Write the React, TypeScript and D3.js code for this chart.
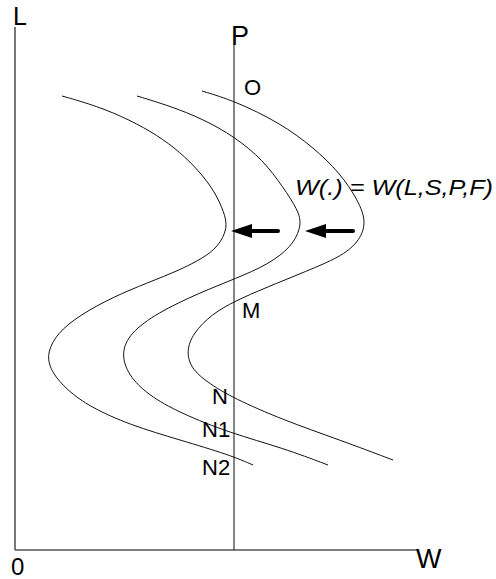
import React from "react";
import * as d3 from "d3";

// Data units: W (horizontal), L (vertical)
const curve1: [number, number][] = [
  [47, 454], [82, 444], [115, 430], [142, 415], [165, 398], [185, 378], [200, 358], [209, 338], [213, 322],
  [203, 303], [188, 292], [165, 280], [132, 267], [98, 253], [65, 235], [42, 217], [31, 195], [37, 177],
  [52, 160], [75, 143], [115, 125], [165, 110], [215, 95], [238, 85],
];
const curve2: [number, number][] = [
  [122, 454], [155, 444], [188, 431], [220, 413], [248, 390], [268, 363], [283, 340], [287, 325],
  [277, 303], [252, 285], [222, 272], [184, 257], [142, 237], [115, 217], [106, 197], [113, 175],
  [133, 155], [165, 137], [215, 117], [268, 102], [313, 85],
];
const curve3: [number, number][] = [
  [187, 459], [220, 449], [265, 427], [298, 403], [325, 377], [343, 350], [352, 327], [343, 307],
  [325, 293], [292, 279], [250, 262], [220, 249], [197, 236], [178, 217], [171, 198], [177, 180],
  [195, 166], [218, 152], [268, 130], [325, 110], [378, 90],
];
const curves = [curve1, curve2, curve3];

// Arrows: [fromW, toW, L]
const arrows: [number, number, number][] = [
  [263, 216, 319],
  [338, 290, 319],
];

const priceW = 219; // vertical line P
const pointLabels: { text: string; w: number; l: number }[] = [
  { text: "O", w: 229, l: 455 },
  { text: "M", w: 227, l: 232 },
  { text: "N", w: 197, l: 146 },
  { text: "N1", w: 187, l: 113 },
  { text: "N2", w: 187, l: 75 },
];

export default function App() {
  const width = 496;
  const height = 579;
  const x = d3.scaleLinear().domain([0, 402]).range([15, 417]);
  const y = d3.scaleLinear().domain([0, 523]).range([550, 27]);
  const line = d3
    .line<[number, number]>()
    .x((d) => x(d[0]))
    .y((d) => y(d[1]))
    .curve(d3.curveBasis);
  const font = "'Liberation Sans', Arial, sans-serif";

  return (
    <svg
      width={width}
      height={height}
      style={{ position: "absolute", left: 0, top: 0, background: "#fff" }}
    >
      <rect x={0} y={0} width={width} height={height} fill="#fff" />
      {/* axes */}
      <line x1={x(0)} y1={y(0)} x2={x(0)} y2={y(523)} stroke="#555" strokeWidth={1.6} />
      <line x1={x(0)} y1={y(0)} x2={x(402)} y2={y(0)} stroke="#555" strokeWidth={1.6} />
      {/* P line */}
      <line x1={x(priceW)} y1={y(0)} x2={x(priceW)} y2={y(505)} stroke="#222" strokeWidth={1.1} />
      {/* curves */}
      {curves.map((c, i) => (
        <path key={i} d={line(c) || ""} fill="none" stroke="#111" strokeWidth={1} />
      ))}
      {/* arrows */}
      {arrows.map(([from, to, l], i) => {
        const tip = x(to);
        const yy = y(l);
        return (
          <g key={i}>
            <line x1={x(from)} y1={yy} x2={tip + 18} y2={yy} stroke="#000" strokeWidth={4} strokeLinecap="round" />
            <path d={`M${tip},${yy} L${tip + 21},${yy - 7} L${tip + 21},${yy + 7} Z`} fill="#000" />
          </g>
        );
      })}
      {/* axis labels */}
      <text x={13} y={25} fontFamily={font} fontSize={25} fill="#000">L</text>
      <text x={231} y={45} fontFamily={font} fontSize={27} fill="#000">P</text>
      <text x={416} y={568} fontFamily={font} fontSize={27} fill="#000">W</text>
      <text x={11} y={575} fontFamily={font} fontSize={24} fill="#000">0</text>
      {pointLabels.map((p) => (
        <text key={p.text} x={x(p.w)} y={y(p.l)} fontFamily={font} fontSize={22} fill="#000">
          {p.text}
        </text>
      ))}
      <text
        x={295}
        y={195}
        fontFamily={font}
        fontSize={22}
        fontStyle="italic"
        textLength={198}
        lengthAdjust="spacingAndGlyphs"
        fill="#000"
      >
        W(.) = W(L,S,P,F)
      </text>
    </svg>
  );
}
